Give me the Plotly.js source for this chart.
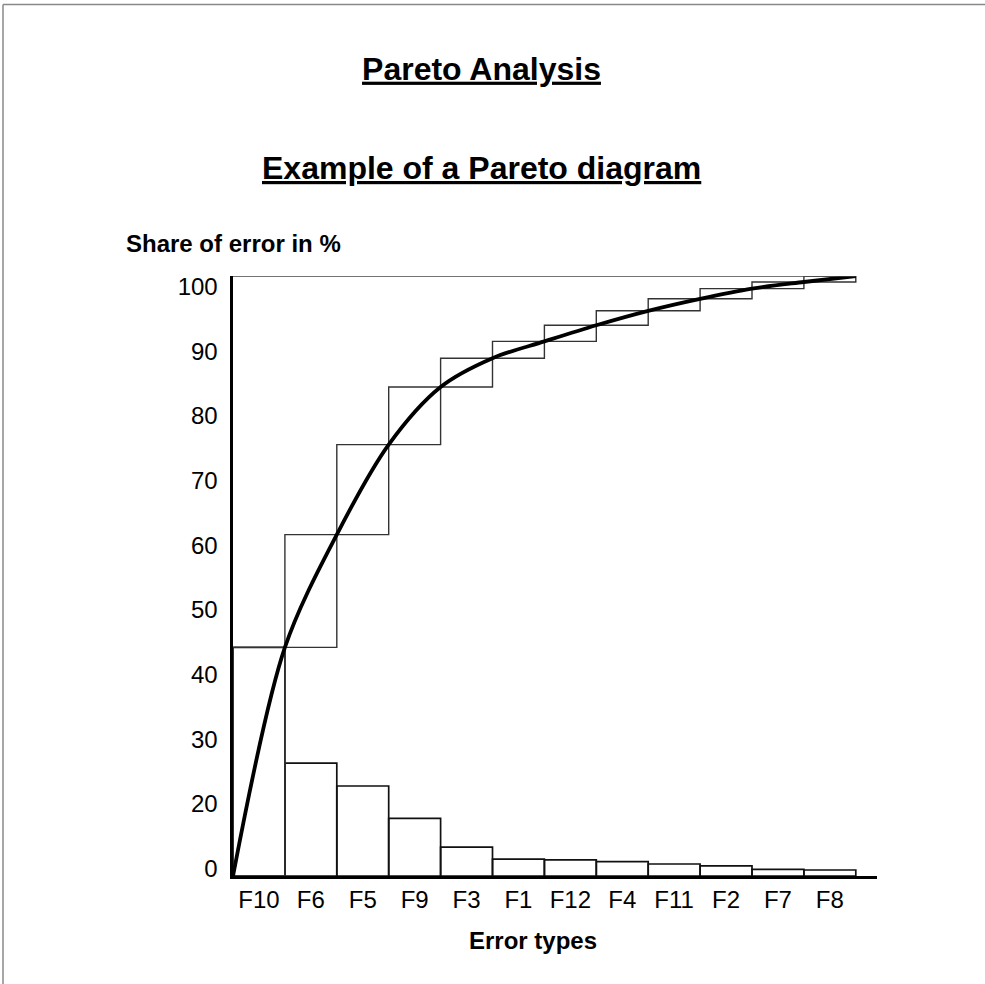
<!DOCTYPE html>
<html>
<head>
<meta charset="utf-8">
<script src="https://cdn.plot.ly/plotly-3.0.1.min.js"></script>
<style>
  html, body { margin: 0; padding: 0; background: #fff; }
  #chart { width: 985px; height: 984px; }
</style>
</head>
<body>
<div id="chart"></div>
<script>
// Error categories, sorted by their share of all errors (in %)
const errorTypes = ['F10', 'F6', 'F5', 'F9', 'F3', 'F1', 'F12', 'F4', 'F11', 'F2', 'F7', 'F8'];
const errorShare = [38.1, 18.8, 15.0, 9.6, 4.8, 2.8, 2.7, 2.4, 2.0, 1.7, 1.1, 1.0];
const yTickText = ['0', '20', '30', '40', '50', '60', '70', '80', '90', '100'];

// Running totals: each step of the staircase starts where the previous one ends
const cumEnd = [];
let running = 0;
errorShare.forEach(v => { running += v; cumEnd.push(running); });
const cumStart = cumEnd.map((c, i) => c - errorShare[i]);

const idx = errorTypes.map((_, i) => i);

// Cumulative curve: from the origin through the upper right corner of every step
const curveX = [-0.5].concat(idx.map(i => i + 0.5));
const curveY = [0].concat(cumEnd);

// Scale labels are spread evenly along the vertical axis
const yTickVals = yTickText.map((_, i) => 1.25 + i * (98.2 - 1.25) / (yTickText.length - 1));

const FONT = 'Liberation Sans, Arial, Helvetica, sans-serif';

// plot area in pixels
const L = 233, R = 877, T = 276, B = 876;
const px2x = px => (px - L) / (R - L);
const py2y = py => (B - py) / (B - T);

const traces = [
  {
    // individual share of each error type
    type: 'bar',
    x: idx,
    y: errorShare,
    width: 1,
    marker: { color: 'rgba(255,255,255,0)', line: { color: '#111', width: 1.7 } },
    hoverinfo: 'skip'
  },
  {
    // staircase of the cumulative share
    type: 'bar',
    x: idx,
    y: errorShare,
    base: cumStart,
    width: 1,
    marker: { color: 'rgba(255,255,255,0)', line: { color: '#333', width: 1.4 } },
    hoverinfo: 'skip'
  },
  {
    type: 'scatter',
    mode: 'lines',
    x: curveX,
    y: curveY,
    line: { color: '#000', width: 3.8, shape: 'spline', smoothing: 0.9 },
    cliponaxis: false,
    hoverinfo: 'skip'
  }
];

const layout = {
  width: 985,
  height: 984,
  margin: { l: L, r: 985 - R, t: T, b: 984 - B, pad: 0 },
  paper_bgcolor: '#fff',
  plot_bgcolor: '#fff',
  showlegend: false,
  barmode: 'overlay',
  bargap: 0,
  font: { family: FONT, color: '#000' },
  title: {
    text: '<b><u>Pareto Analysis</u></b>',
    font: { family: FONT, size: 32, color: '#000' },
    xref: 'container', x: 481.5 / 985, xanchor: 'center',
    yref: 'container', y: 1 - 68.5 / 984, yanchor: 'middle'
  },
  xaxis: {
    type: 'linear',
    range: [-0.5, -0.5 + (R - L) / 51.9],
    tickmode: 'array',
    tickvals: idx,
    ticktext: errorTypes,
    ticks: '',
    showgrid: false,
    zeroline: false,
    showline: true,
    linecolor: '#000',
    linewidth: 3,
    tickfont: { family: FONT, size: 24, color: '#000' },
    fixedrange: true
  },
  yaxis: {
    range: [0, 100],
    tickmode: 'array',
    tickvals: yTickVals,
    ticktext: yTickText,
    ticks: '',
    ticklabelstandoff: 7,
    showgrid: false,
    zeroline: false,
    showline: true,
    linecolor: '#000',
    linewidth: 3.5,
    tickfont: { family: FONT, size: 24, color: '#000' },
    fixedrange: true
  },
  shapes: [
    // upper limit line at 100 %
    { type: 'line', xref: 'x', yref: 'y', x0: -0.5, x1: 11.5, y0: 100, y1: 100,
      line: { color: '#444', width: 1.5 } },
    // page frame
    { type: 'line', xref: 'paper', yref: 'paper', x0: px2x(3), x1: px2x(985), y0: py2y(4.5), y1: py2y(4.5),
      line: { color: '#888', width: 1.5 } },
    { type: 'line', xref: 'paper', yref: 'paper', x0: px2x(3), x1: px2x(3), y0: py2y(4.5), y1: py2y(984),
      line: { color: '#888', width: 1.5 } }
  ],
  annotations: [
    { text: '<b><u>Example of a Pareto diagram</u></b>', xref: 'paper', yref: 'paper',
      x: px2x(481), y: py2y(168), xanchor: 'center', yanchor: 'middle', showarrow: false,
      font: { family: FONT, size: 32, color: '#000' } },
    { text: '<b>Share of error in %</b>', xref: 'paper', yref: 'paper',
      x: px2x(124), y: py2y(243), xanchor: 'left', yanchor: 'middle', showarrow: false,
      font: { family: FONT, size: 24, color: '#000' } },
    { text: '<b>Error types</b>', xref: 'paper', yref: 'paper',
      x: px2x(533), y: py2y(940), xanchor: 'center', yanchor: 'middle', showarrow: false,
      font: { family: FONT, size: 24, color: '#000' } }
  ]
};

Plotly.newPlot('chart', traces, layout, { displayModeBar: false, staticPlot: true });
</script>
</body>
</html>
